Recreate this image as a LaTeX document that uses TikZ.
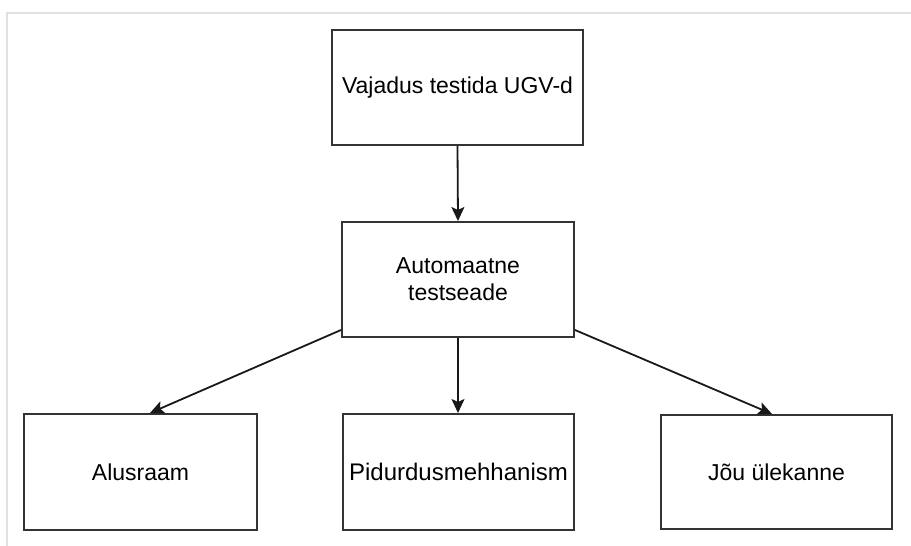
\documentclass[tikz,border=0pt]{standalone}
\usepackage{fontspec}
\setmainfont{Liberation Sans}
\usetikzlibrary{arrows.meta}
\begin{document}
\begin{tikzpicture}[x=1pt,y=-1pt,
  box/.style={draw=black!80,line width=2pt,fill=white,inner sep=0pt,
    font=\fontsize{23}{27}\selectfont,align=center},
  conn/.style={draw=black!90,line width=1.8pt,-{Stealth[length=14pt,width=13pt,inset=3pt]}}]
\useasboundingbox (0,0) rectangle (911,546);
\draw[black!12,line width=2pt] (7,546) -- (7,13) -- (911,13);
\node[box,minimum width=251pt,minimum height=115pt] (need) at (457.5,87.5) {Vajadus testida UGV-d};
\node[box,minimum width=232pt,minimum height=115pt] (auto) at (458,279.5) {Automaatne\\testseade};
\node[box,minimum width=233pt,minimum height=116pt] (base) at (140.5,472) {Alusraam};
\node[box,minimum width=231pt,minimum height=116pt] (brake) at (458.5,472) {\fontsize{24}{28}\selectfont Pidurdusmehhanism};
\node[box,minimum width=231pt,minimum height=114pt] (power) at (776.5,472) {Jõu ülekanne};
\draw[conn] (need.south) -- (auto.north);
\draw[conn] (auto.south) -- (auto.south |- brake.north);
\draw[conn] (auto.west |- 0,330) -- (base.north -| 150,0);
\draw[conn] (auto.east |- 0,330) -- (power.north -| 772,0);
\end{tikzpicture}
\end{document}
